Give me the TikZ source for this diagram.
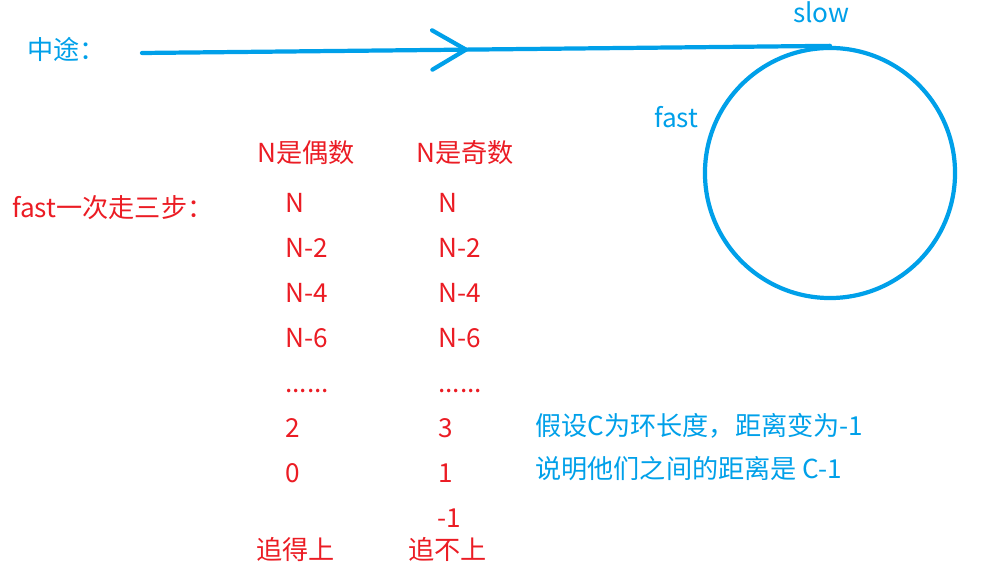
\documentclass[tikz,border=0pt]{standalone}
\usepackage{fontspec}
\setmainfont{Noto Sans CJK SC}
\definecolor{loopblue}{RGB}{0, 160, 233}
\definecolor{stepred}{RGB}{235, 28, 36}
\usetikzlibrary{arrows.meta, positioning, decorations.markings}

\begin{document}
\begin{tikzpicture}[x=0.025cm, y=-0.025cm,
  every node/.style={inner sep=0pt, font=\fontsize{18.6}{22}\selectfont},
  rednote/.style={text=stepred, anchor=base west},
  bluenote/.style={text=loopblue, anchor=base west},
  flowline/.style={draw=loopblue, line width=3pt, line cap=round}]
  \useasboundingbox (0,0) rectangle (989,569);

  % Path into the loop
  \node[bluenote] (midway) at (27,60) {中途：};
  \coordinate (start) at (142,53);
  \node[flowline, circle, minimum size=6.25cm] (loop) at (830,173) {};
  \draw[flowline, postaction={decorate}, decoration={markings,
    mark=at position 0.477 with {\arrow{Straight Barb[length=24pt, width=28pt, line cap=round]}}}]
    (start) -- (loop.north);
  \node[bluenote] (slow) at (793,23) {slow};
  \node[bluenote] (fast) at (654,128) {fast};

  % Headers
  \node[rednote] (even) at (257,163) {N是偶数};
  \node[rednote] (odd) at (416,163) {N是奇数};
  \node[rednote] (rule) at (12,218) {fast一次走三步：};

  % N even
  \node[rednote] (e1) at (285,213) {N};
  \node[rednote] (e2) at (285,258) {N-2};
  \node[rednote] (e3) at (285,303) {N-4};
  \node[rednote] (e4) at (285,348) {N-6};
  \node[rednote] (e5) at (285,393) {......};
  \node[rednote] (e6) at (285,438) {2};
  \node[rednote] (e7) at (285,483) {0};
  \node[rednote] (catch) at (256,560) {追得上};

  % N odd
  \node[rednote] (o1) at (438,213) {N};
  \node[rednote] (o2) at (438,258) {N-2};
  \node[rednote] (o3) at (438,303) {N-4};
  \node[rednote] (o4) at (438,348) {N-6};
  \node[rednote] (o5) at (438,393) {......};
  \node[rednote] (o6) at (438,438) {3};
  \node[rednote] (o7) at (438,483) {1};
  \node[rednote] (o8) at (437,528) {-1};
  \node[rednote] (miss) at (408,560) {追不上};

  % Notes
  \node[bluenote] (note1) at (535,436) {假设C为环长度，距离变为-1};
  \node[bluenote] (note2) at (535,479) {说明他们之间的距离是 C-1};
\end{tikzpicture}
\end{document}
